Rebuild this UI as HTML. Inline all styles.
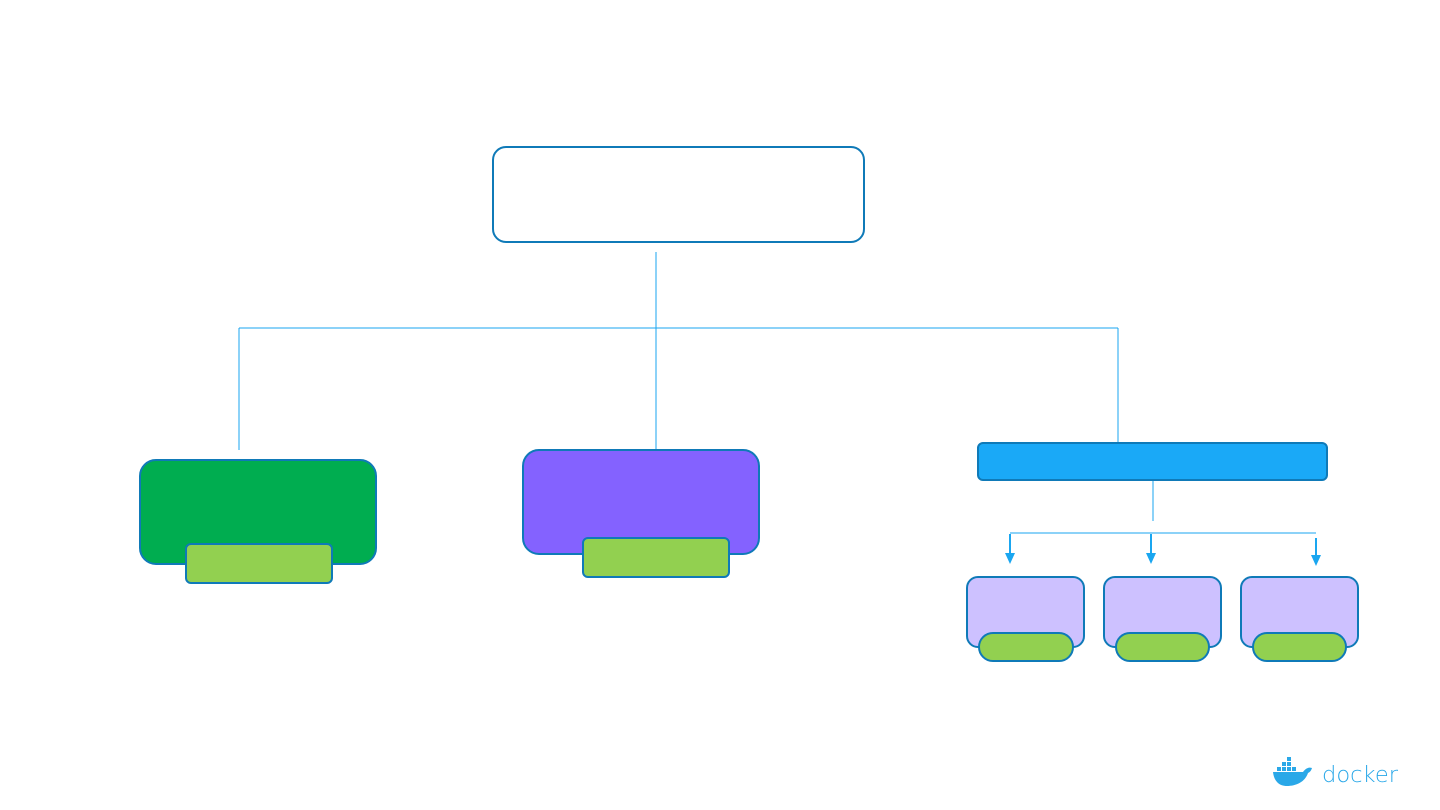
<!DOCTYPE html>
<html><head><meta charset="utf-8"><style>html,body{margin:0;padding:0;background:#fff}svg{display:block}</style></head>
<body>
<svg width="1440" height="810" viewBox="0 0 1440 810" xmlns="http://www.w3.org/2000/svg">
<g fill="none" stroke="#1aa6f0" stroke-width="1">
<line x1="656" y1="252" x2="656" y2="450"/>
<line x1="239" y1="328" x2="1118" y2="328"/>
<line x1="239" y1="328" x2="239" y2="450"/>
<line x1="1118" y1="328" x2="1118" y2="443"/>
<line x1="1153" y1="480" x2="1153" y2="521"/>
<line x1="1010" y1="533" x2="1316" y2="533"/>
</g>
<g stroke="#1aa6f0" stroke-width="2">
<line x1="1010" y1="534" x2="1010" y2="556"/>
<line x1="1151" y1="534" x2="1151" y2="556"/>
<line x1="1316" y1="538" x2="1316" y2="558"/>
</g>
<g fill="#1aa6f0">
<polygon points="1005,553 1015,553 1010,564"/>
<polygon points="1146,553 1156,553 1151,564"/>
<polygon points="1311,555 1321,555 1316,566"/>
</g>
<rect x="493" y="147" width="371" height="95" rx="13" fill="#fff" stroke="#0f7ab8" stroke-width="2"/>
<rect x="140" y="460" width="236" height="104" rx="16" fill="#00ad50" stroke="#0f7ab8" stroke-width="2"/>
<rect x="186" y="544" width="146" height="39" rx="5" fill="#92d050" stroke="#0f7ab8" stroke-width="2"/>
<rect x="523" y="450" width="236" height="104" rx="16" fill="#8462ff" stroke="#0f7ab8" stroke-width="2"/>
<rect x="583" y="538" width="146" height="39" rx="5" fill="#92d050" stroke="#0f7ab8" stroke-width="2"/>
<rect x="978" y="443" width="349" height="37" rx="5" fill="#1aa9f7" stroke="#0f7ab8" stroke-width="2"/>
<g stroke="#0f7ab8" stroke-width="2">
<rect x="967" y="577" width="117" height="70" rx="11" fill="#cdc1ff"/>
<rect x="979" y="633" width="94" height="28" rx="14" fill="#92d050"/>
<rect x="1104" y="577" width="117" height="70" rx="11" fill="#cdc1ff"/>
<rect x="1116" y="633" width="93" height="28" rx="14" fill="#92d050"/>
<rect x="1241" y="577" width="117" height="70" rx="11" fill="#cdc1ff"/>
<rect x="1253" y="633" width="93" height="28" rx="14" fill="#92d050"/>
</g>
<g fill="#2aa8e8">
<path d="M1273 772 h30 c3 -4 6 -5 9 -4 c-1 3 -2 4 -4 5 c-3 9 -12 13 -21 13 c-8 0 -13 -5 -14 -14z"/>
<rect x="1277" y="767" width="4" height="4"/><rect x="1282" y="767" width="4" height="4"/><rect x="1287" y="767" width="4" height="4"/><rect x="1292" y="767" width="4" height="4"/>
<rect x="1282" y="762" width="4" height="4"/><rect x="1287" y="762" width="4" height="4"/><rect x="1287" y="757" width="4" height="4"/>
</g>
<text x="1322" y="782" font-family="DejaVu Sans, sans-serif" font-size="22" font-weight="300" fill="#2aa8e8" textLength="76" lengthAdjust="spacingAndGlyphs">docker</text>
</svg>
</body></html>
